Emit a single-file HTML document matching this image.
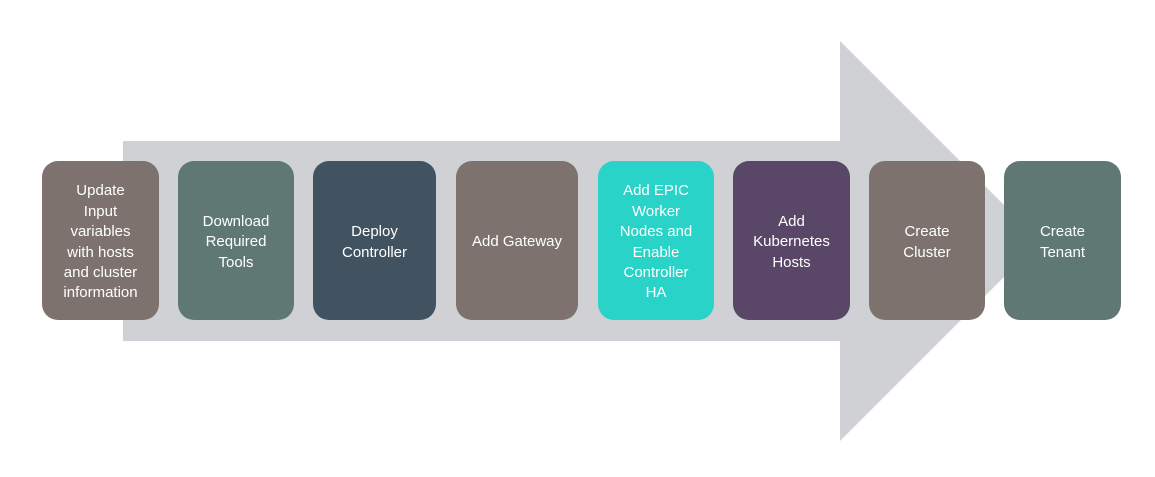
<!DOCTYPE html>
<html><head><style>
body{margin:0;width:1155px;height:477px;background:#fff;position:relative;overflow:hidden;font-family:"Liberation Sans",sans-serif}
.b{position:absolute;top:161px;height:159px;box-sizing:border-box;padding-top:4px;border-radius:16px;color:#fff;display:flex;align-items:center;justify-content:center;text-align:center;font-size:15px;line-height:20.4px}
</style></head><body>
<svg width="1155" height="477" style="position:absolute;left:0;top:0">
<polygon points="123,141 840,141 840,41 1040,241 840,441 840,341 123,341" fill="#d0d1d5"/>
</svg>
<div class="b" style="left:42px;width:117px;background:#7d726d">Update<br>Input<br>variables<br>with hosts<br>and cluster<br>information</div>
<div class="b" style="left:178px;width:116px;background:#5f7874">Download<br>Required<br>Tools</div>
<div class="b" style="left:313px;width:123px;background:#415361">Deploy<br>Controller</div>
<div class="b" style="left:456px;width:122px;background:#7d726d">Add Gateway</div>
<div class="b" style="left:598px;width:116px;background:#29d3c8">Add EPIC<br>Worker<br>Nodes and<br>Enable<br>Controller<br>HA</div>
<div class="b" style="left:733px;width:117px;background:#5a4667">Add<br>Kubernetes<br>Hosts</div>
<div class="b" style="left:869px;width:116px;background:#7d726d">Create<br>Cluster</div>
<div class="b" style="left:1004px;width:117px;background:#5f7874">Create<br>Tenant</div>
</body></html>
